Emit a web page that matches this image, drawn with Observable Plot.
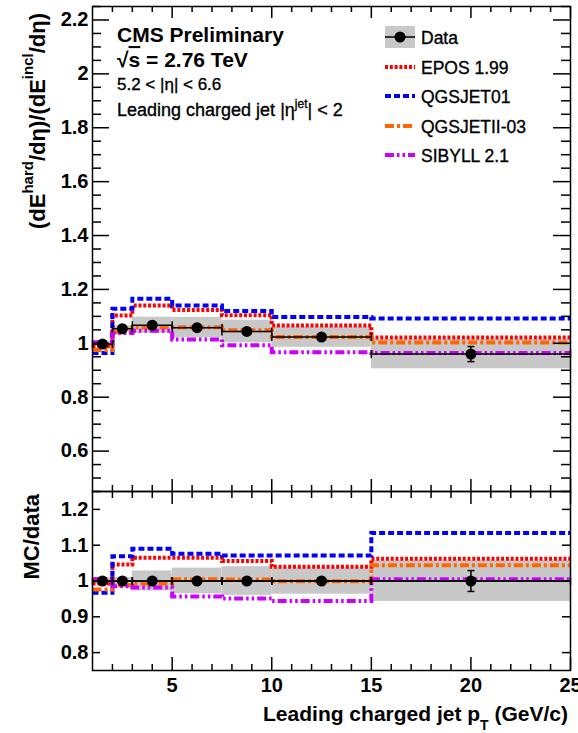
<!DOCTYPE html>
<html><head><meta charset="utf-8">
<script src="https://cdn.jsdelivr.net/npm/d3@7"></script>
<script src="https://cdn.jsdelivr.net/npm/@observablehq/plot@0.6"></script>
<style>
html,body{margin:0;padding:0;background:#fff;}
#wrap{position:relative;width:578px;height:733px;overflow:hidden;font-family:"Liberation Sans",Arial,Helvetica,sans-serif;}
#wrap svg{position:absolute;left:0;overflow:visible;}
</style></head><body><div id="wrap"></div>
<script>
// ---- bins (leading charged jet pT, GeV/c)
const binLo = [1, 2, 3, 5, 7.5, 10, 15];
const binHi = [2, 3, 5, 7.5, 10, 15, 25];
const binCenter = [1.5, 2.5, 4, 6.25, 8.75, 12.5, 20];

// ---- data: (dE_hard/deta)/(dE_incl/deta)
const dataVal = [0.997, 1.054, 1.067, 1.058, 1.044, 1.023, 0.960];
const dataStat = [0.004, 0.004, 0.004, 0.005, 0.006, 0.007, 0.028];
const dataSystRel = [0.010, 0.010, 0.028, 0.036, 0.040, 0.037, 0.057];

// ---- models, upper panel
const eposVal = [0.990, 1.103, 1.140, 1.124, 1.104, 1.066, 1.022];
const qgsjet01Val = [0.964, 1.128, 1.165, 1.140, 1.120, 1.098, 1.092];
const qgsjetIIVal = [0.975, 1.041, 1.060, 1.060, 1.048, 1.023, 1.003];
const sibyllVal = [1.004, 1.038, 1.047, 1.014, 0.993, 0.967, 0.964];

// ---- models, MC/data ratio
const eposRatio = [0.993, 1.046, 1.065, 1.065, 1.056, 1.040, 1.062];
const qgsjet01Ratio = [0.967, 1.069, 1.090, 1.076, 1.071, 1.071, 1.134];
const qgsjetIIRatio = [0.976, 0.988, 0.993, 1.005, 1.004, 0.999, 1.044];
const sibyllRatio = [1.005, 0.985, 0.982, 0.957, 0.951, 0.944, 1.005];

const seriesNames = ["EPOS 1.99", "QGSJET01", "QGSJETII-03", "SIBYLL 2.1"];
const seriesColors = ["#ff0000", "#0000ff", "#ff6600", "#cc00ff"];
const seriesDash = ["3,1.8", "6,3", "9,3,3,3", "9,3,2.5,3,2.5,3"];

// ---- tick labels
const upperYTicks = [0.6, 0.8, 1, 1.2, 1.4, 1.6, 1.8, 2, 2.2];
const lowerYTicks = [0.8, 0.9, 1, 1.1, 1.2];
const xTicks = [5, 10, 15, 20, 25];

// ---------------------------------------------------------------
const FONT = '"Liberation Sans", Arial, Helvetica, sans-serif';
const W = 578, ML = 92, MR = 8;
const FW = W - ML - MR;
const upVals = [eposVal, qgsjet01Val, qgsjetIIVal, sibyllVal];
const loVals = [eposRatio, qgsjet01Ratio, qgsjetIIRatio, sibyllRatio];

const rows = binLo.map((lo, i) => ({lo, hi: binHi[i], c: binCenter[i], v: dataVal[i], e: dataStat[i], s: dataSystRel[i]}));
const steps = vals => vals.flatMap((v, i) => [{x: binLo[i], y: v}, {x: binHi[i], y: v}]);
const xMinor = d3.range(2, 25).filter(d => !xTicks.includes(d));
const upMinor = d3.range(9, 46).map(i => +(i * 0.05).toFixed(2)).filter(d => !upperYTicks.some(t => Math.abs(t - d) < 1e-9));

const vbar = {draw(ctx, size) { const r = Math.sqrt(size / Math.PI); ctx.moveTo(0, -r); ctx.lineTo(0, r); }};
const hbar = {draw(ctx, size) { const r = Math.sqrt(size / Math.PI); ctx.moveTo(-r, 0); ctx.lineTo(r, 0); }};

function frameTicks(FH, yMajor, yMinor, yMajLen, yMinLen, xMajTop, xMinTop, xMajBot, xMinBot) {
  const st = {stroke: "black", strokeWidth: 1.5};
  const m = [];
  m.push(Plot.tickY(yMajor, {y: d => d, insetRight: FW - yMajLen, ...st}));
  m.push(Plot.tickY(yMajor, {y: d => d, insetLeft: FW - yMajLen, ...st}));
  if (yMinor.length) {
    m.push(Plot.tickY(yMinor, {y: d => d, insetRight: FW - yMinLen, ...st}));
    m.push(Plot.tickY(yMinor, {y: d => d, insetLeft: FW - yMinLen, ...st}));
  }
  m.push(Plot.tickX(xTicks, {x: d => d, insetBottom: FH - xMajTop, ...st}));
  m.push(Plot.tickX(xMinor, {x: d => d, insetBottom: FH - xMinTop, ...st}));
  m.push(Plot.tickX(xTicks, {x: d => d, insetTop: FH - xMajBot, ...st}));
  m.push(Plot.tickX(xMinor, {x: d => d, insetTop: FH - xMinBot, ...st}));
  return m;
}

function modelLines(valsList) {
  return valsList.map((vals, k) => Plot.line(steps(vals), {
    x: "x", y: "y", stroke: seriesColors[k], strokeWidth: 4, strokeDasharray: seriesDash[k],
    strokeLinecap: "butt", strokeLinejoin: "miter", strokeMiterlimit: 4
  }));
}

function dataMarks(yOf) {
  return [
    Plot.ruleY(rows, {y: yOf, x1: "lo", x2: "hi", stroke: "black", strokeWidth: 1.5}),
    Plot.dot(rows, {x: "lo", y: yOf, symbol: vbar, r: 4, stroke: "black", strokeWidth: 1.5, fill: "none"}),
    Plot.dot(rows, {x: "hi", y: yOf, symbol: vbar, r: 4, stroke: "black", strokeWidth: 1.5, fill: "none"})
  ];
}

const svgStyle = top => ({position: "absolute", top: top + "px", left: "0px", overflow: "visible", background: "transparent", fontFamily: FONT, color: "black"});

// ---------------- upper panel
const UP_H = 492, UP_MT = 6, UP_MB = 1;
const UFH = UP_H - UP_MT - UP_MB;
const upper = Plot.plot({
  width: W, height: UP_H, marginTop: UP_MT, marginBottom: UP_MB, marginLeft: ML, marginRight: MR,
  x: {domain: [1, 25], axis: null},
  y: {domain: [0.45, 2.25], axis: null},
  style: svgStyle(0),
  marks: [
    Plot.rect(rows, {x1: "lo", x2: "hi", y1: d => d.v * (1 - d.s), y2: d => d.v * (1 + d.s), fill: "#c8c8c8"}),
    ...modelLines(upVals),
    ...dataMarks("v"),
    Plot.ruleX(rows, {x: "c", y1: d => d.v - d.e, y2: d => d.v + d.e, stroke: "black", strokeWidth: 1.5}),
    Plot.dot(rows, {x: "c", y: d => d.v - d.e, symbol: hbar, r: 3.5, stroke: "black", strokeWidth: 1.5, fill: "none"}),
    Plot.dot(rows, {x: "c", y: d => d.v + d.e, symbol: hbar, r: 3.5, stroke: "black", strokeWidth: 1.5, fill: "none"}),
    Plot.dot(rows, {x: "c", y: "v", r: 5.5, fill: "black"}),
    ...frameTicks(UFH, upperYTicks, upMinor, 17, 9, 12, 6, 12, 6),
    Plot.frame({stroke: "black", strokeWidth: 1.5}),
    Plot.axisY(upperYTicks, {tickSize: 0, tickPadding: 4, fontSize: 20, fontWeight: "bold", label: null, tickFormat: d => String(d)})
  ]
});

// ---------------- lower panel
const LO_TOP = 481, LO_H = 252, LO_MT = 10, LO_MB = 63;
const LFH = LO_H - LO_MT - LO_MB;
const lower = Plot.plot({
  width: W, height: LO_H, marginTop: LO_MT, marginBottom: LO_MB, marginLeft: ML, marginRight: MR,
  x: {domain: [1, 25], axis: null},
  y: {domain: [0.75, 1.25], axis: null},
  style: svgStyle(LO_TOP),
  marks: [
    Plot.rect(rows, {x1: "lo", x2: "hi", y1: d => 1 - d.s, y2: d => 1 + d.s, fill: "#c8c8c8"}),
    ...modelLines(loVals),
    Plot.ruleY([1], {stroke: "black", strokeWidth: 1.5}),
    ...dataMarks(() => 1),
    Plot.ruleX(rows, {x: "c", y1: d => 1 - d.e / d.v, y2: d => 1 + d.e / d.v, stroke: "black", strokeWidth: 1.5}),
    Plot.dot(rows, {x: "c", y: d => 1 - d.e / d.v, symbol: hbar, r: 3.5, stroke: "black", strokeWidth: 1.5, fill: "none"}),
    Plot.dot(rows, {x: "c", y: d => 1 + d.e / d.v, symbol: hbar, r: 3.5, stroke: "black", strokeWidth: 1.5, fill: "none"}),
    Plot.dot(rows, {x: "c", y: () => 1, r: 5.5, fill: "black"}),
    ...frameTicks(LFH, lowerYTicks, [], 8, 0, 13, 7, 13, 6),
    Plot.frame({stroke: "black", strokeWidth: 1.5}),
    Plot.axisY(lowerYTicks, {tickSize: 0, tickPadding: 4, fontSize: 20, fontWeight: "bold", label: null, tickFormat: d => String(d)}),
    Plot.axisX(xTicks, {tickSize: 0, tickPadding: 7, fontSize: 20, fontWeight: "bold", label: null, tickFormat: d => String(d)})
  ]
});

const wrap = document.getElementById("wrap");
wrap.appendChild(upper);
wrap.appendChild(lower);

// ---------------- overlay: titles, annotations, legend
const ov = d3.select(wrap).append("svg")
  .attr("width", W).attr("height", 733)
  .style("position", "absolute").style("top", "0px").style("left", "0px")
  .attr("font-family", FONT);

// y title, upper
const yt = ov.append("text").attr("transform", "translate(45,13) rotate(-90)")
  .attr("text-anchor", "end").attr("font-size", 22).attr("font-weight", "bold");
yt.append("tspan").text("(dE");
yt.append("tspan").attr("dy", -12).attr("font-size", 15).text("hard");
yt.append("tspan").attr("dy", 12).text("/dη)/(dE");
yt.append("tspan").attr("dy", -12).attr("font-size", 15).text("incl");
yt.append("tspan").attr("dy", 12).text("/dη)");

// y title, lower
ov.append("text").attr("transform", "translate(39,494) rotate(-90)")
  .attr("text-anchor", "end").attr("font-size", 22).attr("font-weight", "bold").text("MC/data");

// x title
const xt = ov.append("text").attr("x", 568).attr("y", 721).attr("text-anchor", "end")
  .attr("font-size", 21).attr("font-weight", "bold");
xt.append("tspan").text("Leading charged jet p");
xt.append("tspan").attr("dy", 9).attr("font-size", 14).text("T");
xt.append("tspan").attr("dy", -9).text(" (GeV/c)");

// annotations (regular text slightly thickened, as in the reference rendering)
const thick = sel => sel.attr("stroke", "black").attr("stroke-width", 0.35);
ov.append("text").attr("x", 117).attr("y", 42).attr("font-size", 21).attr("font-weight", "bold").text("CMS Preliminary");
const rs = ov.append("text").attr("x", 117).attr("y", 67).attr("font-size", 21).attr("font-weight", "bold");
rs.append("tspan").text("√");
rs.append("tspan").style("text-decoration", "overline").text("s");
rs.append("tspan").text(" = 2.76 TeV");
thick(ov.append("text").attr("x", 117).attr("y", 90).attr("font-size", 17).text("5.2 < |η| < 6.6"));
const lj = thick(ov.append("text").attr("x", 117).attr("y", 116).attr("font-size", 18));
lj.append("tspan").text("Leading charged jet |η");
lj.append("tspan").attr("dy", -8).attr("font-size", 12).text("jet");
lj.append("tspan").attr("dy", 8).text("| < 2");

// legend
const lg = ov.append("g");
const legX0 = 385, legX1 = 415, legTx = 421;
const legY = [37, 67, 96, 126, 155];
lg.append("rect").attr("x", legX0).attr("y", legY[0] - 11).attr("width", legX1 - legX0).attr("height", 22).attr("fill", "#c8c8c8");
lg.append("line").attr("x1", legX0).attr("x2", legX1).attr("y1", legY[0]).attr("y2", legY[0]).attr("stroke", "black").attr("stroke-width", 1.5);
lg.append("circle").attr("cx", (legX0 + legX1) / 2).attr("cy", legY[0]).attr("r", 5.5).attr("fill", "black");
thick(lg.append("text").attr("x", legTx).attr("y", legY[0] + 6.5).attr("font-size", 17.5).text("Data"));
seriesNames.forEach((name, k) => {
  const y = legY[k + 1];
  lg.append("line").attr("x1", legX0).attr("x2", legX1).attr("y1", y).attr("y2", y)
    .attr("stroke", seriesColors[k]).attr("stroke-width", 4).attr("stroke-dasharray", seriesDash[k]);
  thick(lg.append("text").attr("x", legTx).attr("y", y + 7).attr("font-size", 17.5).text(name));
});
</script></body></html>
